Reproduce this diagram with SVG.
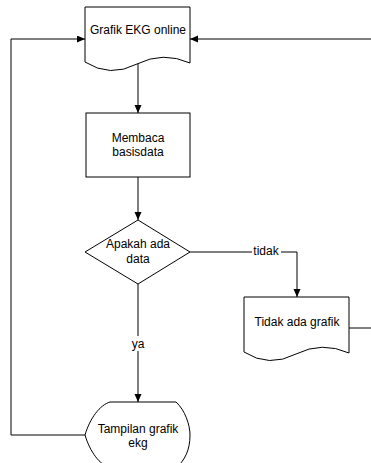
<svg xmlns="http://www.w3.org/2000/svg" width="371" height="463" viewBox="0 0 371 463">
<style>
.shape{fill:#fff;stroke:#000;stroke-width:1}
.conn{fill:none;stroke:#000;stroke-width:1}
text{font-family:"Liberation Sans",Arial,sans-serif;font-size:12px;fill:#000;text-anchor:middle}
.lbl{fill:#fff;stroke:none}
</style>
<defs>
<marker id="arr" markerWidth="9" markerHeight="8" refX="8" refY="3.5" orient="auto" markerUnits="userSpaceOnUse">
<path d="M0,0 L8,3.5 L0,7 Z" fill="#000"/>
</marker>
</defs>
<rect width="371" height="463" fill="#fff"/>
<g id="connectors">
<path class="conn" d="M138,64 V113" marker-end="url(#arr)"/>
<path class="conn" d="M138,177 V220" marker-end="url(#arr)"/>
<path class="conn" d="M190,252 H297 V297" marker-end="url(#arr)"/>
<path class="conn" d="M138,284 V402" marker-end="url(#arr)"/>
<path class="conn" d="M85,435 H11 V39 H85" marker-end="url(#arr)"/>
<path class="conn" d="M349,328 H372 V39 H190" marker-end="url(#arr)"/>
<rect class="lbl" x="252" y="245" width="29" height="13"/>
<text x="266" y="255">tidak</text>
<rect class="lbl" x="129" y="336" width="18" height="15"/>
<text x="138" y="348">ya</text>
</g>
<g id="grafik-ekg-online">
<path class="shape" d="M85,7 H190 V63 Q163,51 137,64 Q110,78 85,62 Z"/>
<text x="138" y="34">Grafik EKG online</text>
</g>
<g id="membaca-basisdata">
<rect class="shape" x="86" y="113" width="104" height="64"/>
<text x="138" y="142">Membaca</text>
<text x="138" y="156">basisdata</text>
</g>
<g id="apakah-ada-data">
<path class="shape" d="M138,220 L190,252 L138,284 L85,252 Z"/>
<text x="138" y="248">Apakah ada</text>
<text x="138" y="263">data</text>
</g>
<g id="tidak-ada-grafik">
<path class="shape" d="M244,297 H349 V353 Q322,341 296,354 Q269,368 244,352 Z"/>
<text x="297" y="326">Tidak ada grafik</text>
</g>
<g id="tampilan-grafik-ekg">
<path class="shape" d="M85,435 C90,418 100,405 110,402 H176 C185,410 190,425 190,435 C190,450 185,460 176,468 H110 C100,465 90,452 85,435 Z"/>
<text x="138" y="433">Tampilan grafik</text>
<text x="138" y="447">ekg</text>
</g>
</svg>
